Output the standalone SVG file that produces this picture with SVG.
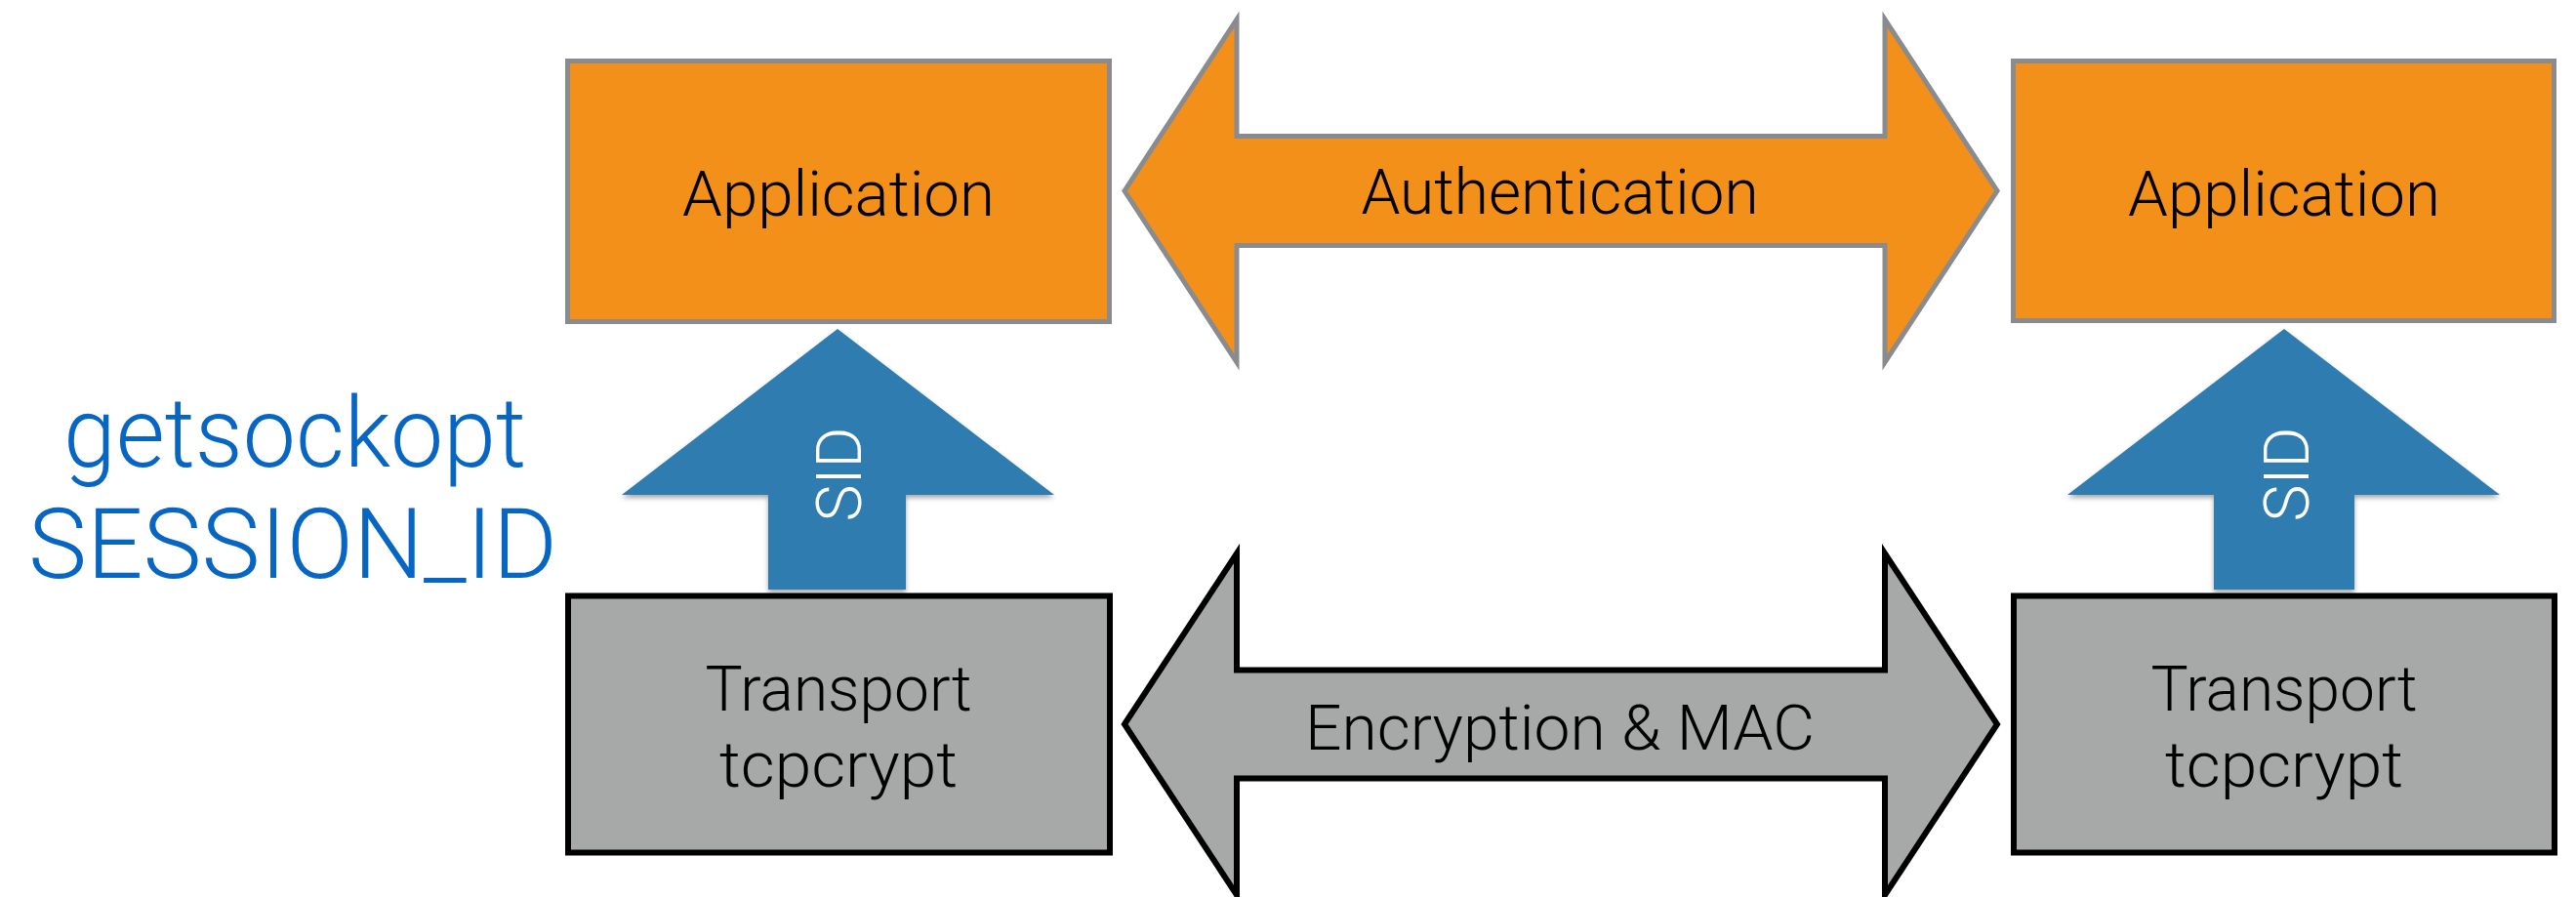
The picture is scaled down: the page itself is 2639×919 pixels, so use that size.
<svg xmlns="http://www.w3.org/2000/svg" width="2639" height="919" viewBox="0 0 2639 919">
  <style>
    .lbl { font-family: Roboto, "Liberation Sans", sans-serif; font-weight: 300; font-size: 64px; fill: #000; text-anchor: middle; }
    .app { fill: #f2901a; stroke: #8a8b8f; stroke-width: 5; }
    .tp { fill: #a6a9a8; stroke: #000; stroke-width: 6; }
    .sid { fill: #2e7bb0; filter: url(#shadow); }
    .sidtxt { font-family: Roboto, "Liberation Sans", sans-serif; font-weight: 300; font-size: 64px; fill: #fff; text-anchor: middle; }
    .api { font-family: Roboto, "Liberation Sans", sans-serif; font-weight: 300; font-size: 100px; fill: #0765c4; text-anchor: middle; }
  </style>
  <defs>
    <filter id="shadow" x="-10%" y="-10%" width="120%" height="120%">
      <feDropShadow dx="0" dy="3" stdDeviation="2.5" flood-color="#000" flood-opacity="0.35"/>
    </filter>
  </defs>

  <rect width="2639" height="919" fill="#fff"/>

  <!-- side note -->
  <g id="sockopt-note">
    <text class="api" x="302" y="478" textLength="474" lengthAdjust="spacingAndGlyphs">getsockopt</text>
    <text class="api" x="300" y="592" textLength="542" lengthAdjust="spacingAndGlyphs">SESSION_ID</text>
  </g>

  <!-- application layer -->
  <g id="app-left">
    <rect class="app" x="581.5" y="62.5" width="555" height="267"/>
    <text class="lbl" x="859" y="221" textLength="320" lengthAdjust="spacingAndGlyphs">Application</text>
  </g>
  <g id="app-right">
    <rect class="app" x="2062.5" y="62.5" width="554" height="266"/>
    <text class="lbl" x="2340" y="221" textLength="320" lengthAdjust="spacingAndGlyphs">Application</text>
  </g>

  <!-- transport layer -->
  <g id="transport-left">
    <rect class="tp" x="582" y="610.5" width="555" height="263"/>
    <text class="lbl" x="859" y="728">Transport</text>
    <text class="lbl" x="859" y="806" textLength="244" lengthAdjust="spacingAndGlyphs">tcpcrypt</text>
  </g>
  <g id="transport-right">
    <rect class="tp" x="2063" y="610.5" width="554" height="263"/>
    <text class="lbl" x="2340" y="728">Transport</text>
    <text class="lbl" x="2340" y="806" textLength="244" lengthAdjust="spacingAndGlyphs">tcpcrypt</text>
  </g>

  <!-- connectors -->
  <g id="connectors">
    <g id="auth-link">
      <polygon fill="#f2901a" stroke="#8a8b8f" stroke-width="5"
        points="1152,195.5 1267,20 1267,139.5 1931,139.5 1931,20 2046,195.5 1931,371 1931,251.5 1267,251.5 1267,371"/>
      <text class="lbl" x="1598" y="219">Authentication</text>
    </g>
    <g id="enc-link">
      <polygon fill="#a6a9a8" stroke="#000" stroke-width="6"
        points="1152,742 1267,567 1267,686.5 1931,686.5 1931,567 2046,742 1931,917 1931,797.5 1267,797.5 1267,917"/>
      <text class="lbl" x="1598" y="768" textLength="522" lengthAdjust="spacingAndGlyphs">Encryption &amp; MAC</text>
    </g>
    <g id="sid-left">
      <polygon class="sid" points="858,337 1080,507 928,507 928,604 787,604 787,507 637,507"/>
      <text class="sidtxt" transform="translate(882,486) rotate(-90)">SID</text>
    </g>
    <g id="sid-right">
      <polygon class="sid" points="2340,337 2561,507 2412,507 2412,604 2268,604 2268,507 2118,507"/>
      <text class="sidtxt" transform="translate(2365,486) rotate(-90)">SID</text>
    </g>
  </g>
</svg>
